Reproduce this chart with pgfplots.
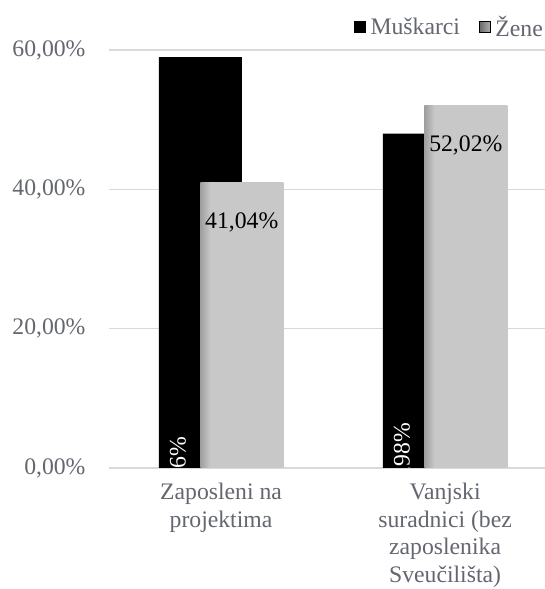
\documentclass[border=0pt]{standalone}
\usepackage{pgfplots}
\pgfplotsset{compat=1.18}
\usepackage{fontspec}
\setmainfont{Liberation Serif}
\definecolor{tc}{RGB}{100,102,112}
\definecolor{gridc}{RGB}{217,217,217}
\definecolor{barg}{RGB}{200,200,200}
\definecolor{bargd}{RGB}{158,158,158}
\definecolor{legd}{RGB}{105,105,105}
\definecolor{legl}{RGB}{175,175,175}
\pgfdeclarehorizontalshading{barshade}{100bp}{color(0bp)=(bargd); color(25bp)=(bargd); color(31bp)=(barg); color(100bp)=(barg)}
\newcommand\fs{\fontsize{23.7bp}{27.5bp}\selectfont}
\begin{document}
\begin{tikzpicture}
\path[use as bounding box] (0,0) rectangle (545bp,589bp);
\clip (0,0) rectangle (545bp,589bp);
\begin{axis}[
  at={(109bp,121bp)}, anchor=south west,
  width=436bp, height=418bp, scale only axis,
  xmin=-0.5, xmax=1.446, ymin=0, ymax=60,
  axis line style={draw=none},
  ytick={0,20,40,60},
  yticklabel={\pgfmathprintnumber[fixed,fixed zerofill,precision=2,use comma]{\tick}\%},
  /pgf/number format/assume math mode=true,
  ymajorgrids, grid style={gridc, line width=1.5bp},
  major tick length=0pt,
  tick label style={font=\fs, text=tc},
  yticklabel style={xshift=-20bp},
  xtick={0,1},
  xticklabels={Zaposleni na\\projektima, Vanjski\\suradnici (bez\\zaposlenika\\Sveučilišta)},
  xticklabel style={align=center, anchor=north, yshift=-12bp},
  clip marker paths=true,
  legend columns=2,
  legend style={draw=none, fill=none, at={(1,1)}, anchor=east, yshift=23bp, xshift=3bp,
    font=\fs, text=tc, inner sep=0pt, nodes={inner ysep=3bp, inner xsep=5bp},
    /tikz/every even column/.append style={column sep=14bp}},
  gray label/.style={
    nodes near coords={\pgfmathprintnumber[fixed,fixed zerofill,precision=2,use comma]{\pgfplotspointmeta}\%},
    every node near coord/.append style={anchor=north, xshift=20.75bp, yshift=-30bp, font=\fs, text=black, inner sep=0pt, shade=false, fill=none}},
]
\addplot[forget plot, ybar, bar width=83bp, bar shift=-20.75bp, fill=black, draw=none]
  coordinates {(0,58.96) (1,47.98)};
\addplot[forget plot, ybar, bar width=83bp, bar shift=20.75bp, shade, shading=barshade, draw=none, gray label]
  coordinates {(0,41.04)};
\addplot[forget plot, ybar, bar width=83bp, bar shift=20.75bp, shade, shading=barshade, draw=none, gray label]
  coordinates {(1,52.02)};
\addplot[forget plot, draw=none, mark=none, nodes near coords, point meta=explicit symbolic,
  every node near coord/.append style={rotate=90, anchor=east, text=white, font=\fs, inner sep=0pt}]
  coordinates {(-0.185,4.45) [58,96\%] (0.815,6.46) [47,98\%]};
\addlegendimage{legend image code/.code={\fill[black] (0bp,-5.5bp) rectangle (11bp,5.5bp);}}
\addlegendentry{Muškarci}
\addlegendimage{legend image code/.code={\shade[left color=legd, right color=legl] (0bp,-5.5bp) rectangle (11bp,5.5bp);}}
\addlegendentry{Žene}
\end{axis}
\end{tikzpicture}
\end{document}
